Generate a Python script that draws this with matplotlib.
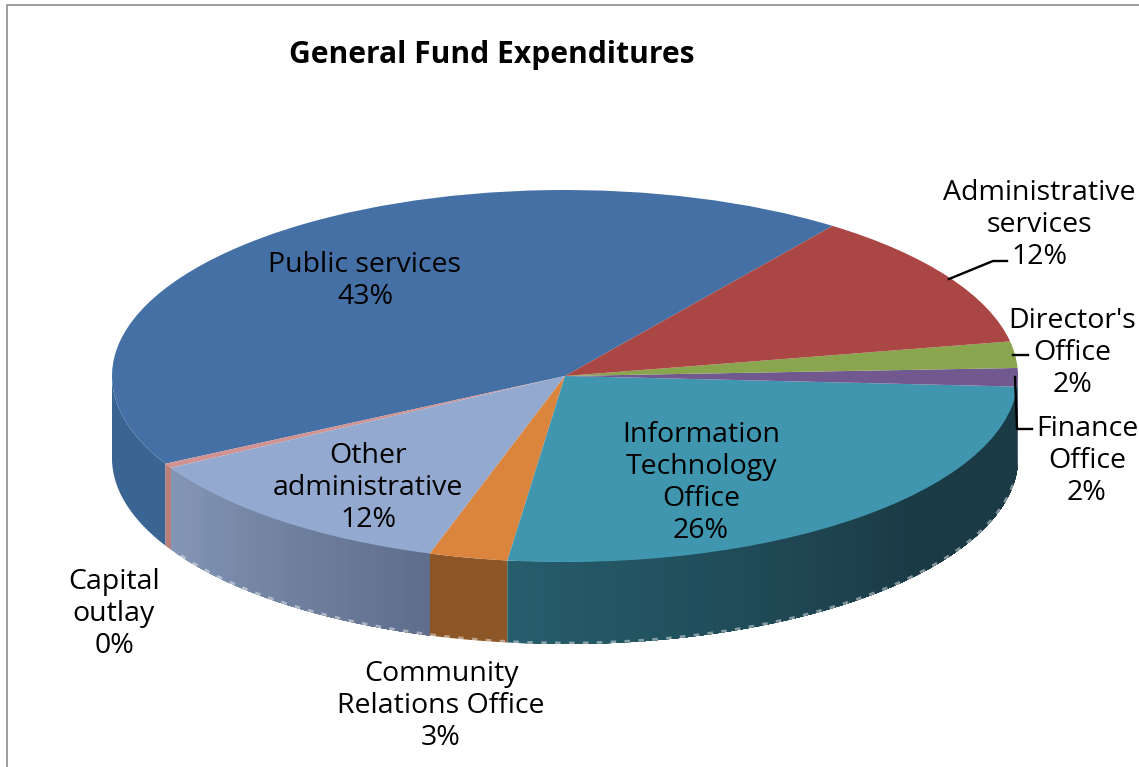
"""General Fund Expenditures: 3-D style pie, flat pie squashed plus side strips."""
import numpy as np
import matplotlib
matplotlib.use("Agg")
import matplotlib.pyplot as plt
from matplotlib.colors import to_rgb
from matplotlib.transforms import Affine2D

plt.rcParams["font.family"] = ["Open Sans", "DejaVu Sans"]

TITLE = "General Fund Expenditures"
CATEGORIES = ["Public services", "Capital\noutlay", "Other\nadministrative",
              "Community\nRelations Office", "Information\nTechnology\nOffice",
              "Finance\nOffice", "Director's\nOffice", "Administrative\nservices"]
VALUES = [43, 0.4, 12, 2.8, 26.2, 1.6, 2.3, 12]
PERCENT_TEXT = ["43%", "0%", "12%", "3%", "26%", "2%", "2%", "12%"]
TOP_COLORS = ["#4470A6", "#D19392", "#93A9CF", "#DB843D", "#4096AE",
              "#71588F", "#89A54E", "#AA4643"]
# side colour at start and end of each slice's visible edge
SIDE_COLORS = [("#3A6491", "#3A6491"), ("#B97F7A", "#B97F7A"), ("#8496B6", "#5F6E8C"),
               ("#8C5627", "#8C5627"), ("#265D6C", "#1A3A45"), ("#6F6C92", "#6F6C92"),
               ("#89A54E", "#89A54E"), ("#AA4643", "#AA4643")]
LABEL_POS = [(365, 281), (114, 614), (368, 488), (441, 706), (701, 483),
             (1087, 461), (1072, 353), (1039, 225)]

# pixel geometry of the squashed pie
CX, CY = 565, 376
RX, RY = 453, 186
DEPTH = 82
START_ANGLE = 53.8

fig = plt.figure(figsize=(11.39, 7.67), dpi=100)
ax = fig.add_axes([0, 0, 1, 1])

wedges, _ = ax.pie(VALUES, colors=TOP_COLORS, startangle=START_ANGLE, radius=1,
                   wedgeprops={"linewidth": 0})
ax.set_aspect("auto")
ax.set_xlim(0, 1139)
ax.set_ylim(767, 0)
ax.axis("off")

to_px = Affine2D().scale(RX, -RY).translate(CX, CY) + ax.transData
for w in wedges:
    w.set_transform(to_px)
    w.set_zorder(3)


def side_band(t1, t2, **kw):
    phi = np.radians(np.linspace(t1, t2, max(int(t2 - t1) * 2, 4)))
    xs = CX + RX * np.cos(phi)
    ys = CY - RY * np.sin(phi)
    ax.fill(np.r_[xs, xs[::-1]], np.r_[ys, ys[::-1] + DEPTH], **kw)


# side wall: only the front half of the rim shows
for w, (c0, c1) in zip(wedges, SIDE_COLORS):
    t1, t2 = max(w.theta1, 180), min(w.theta2, 360)
    if t2 <= t1:
        continue
    if c0 == c1:
        side_band(t1, t2, color=c1, lw=0, zorder=2)
        continue
    n = int((t2 - t1) / 1.2)
    edges = np.linspace(t1, t2, n + 1)
    rgb0, rgb1 = np.array(to_rgb(c0)), np.array(to_rgb(c1))
    # teal side reaches its dark colour early, the rest stays flat
    speed = 1.6 if w is wedges[4] else 1.0
    for i in range(n):
        f = min(i / (n - 1) * speed, 1)
        # each band runs to the slice end so the next one paints over it, no seams
        side_band(edges[i], t2, color=rgb0 + (rgb1 - rgb0) * f, lw=0, zorder=2)
        if f == 1:
            break

# pale broken edge along the bottom of the rim
phi = np.radians(np.linspace(212, 352, 300))
ax.plot(CX + RX * np.cos(phi), CY - RY * np.sin(phi) + DEPTH - 1, color="#FFFFFF",
        alpha=0.45, lw=2, dashes=(2, 3), zorder=2.5)

for name, pct, (x, y) in zip(CATEGORIES, PERCENT_TEXT, LABEL_POS):
    ax.text(x, y, f"{name}\n{pct}", ha="center", va="center", fontsize=20.5,
            linespacing=1.18, color="#000000", zorder=5)

ax.text(491.5, 55, TITLE, ha="center", va="center", fontsize=21.6, fontweight="bold", zorder=5)

# leader lines
ax.plot([949, 993, 1007], [279, 261, 261], color="black", lw=1.7, zorder=4)
ax.plot([1013, 1028], [355, 355], color="black", lw=1.7, zorder=4)
ax.plot([1015, 1017, 1032], [377, 429, 429], color="black", lw=1.7, zorder=4)

# chart frame, only left and top fall inside the crop
ax.plot([7, 7, 1139], [767, 5, 5], color="#8C8C8C", lw=1.2, zorder=1)

fig.savefig("out.png", dpi=100)
